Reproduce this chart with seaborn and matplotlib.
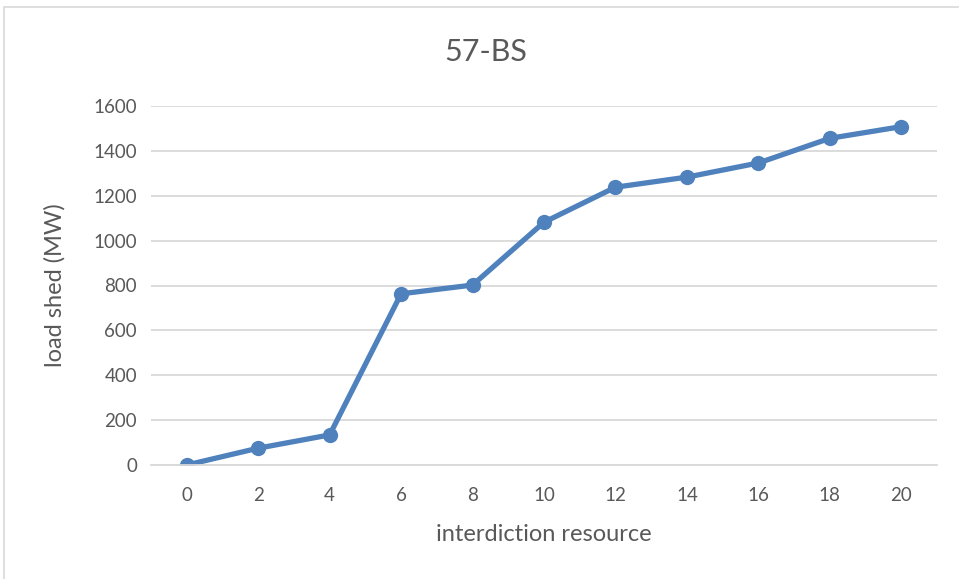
import matplotlib
matplotlib.use("Agg")
import matplotlib.pyplot as plt
import seaborn as sns
import pandas as pd
from matplotlib.patches import Rectangle

# data
resource = ["0", "2", "4", "6", "8", "10", "12", "14", "16", "18", "20"]
load_shed = [0, 75, 134, 763, 802, 1082, 1238, 1283, 1346, 1456, 1508]
y_ticks = [0, 200, 400, 600, 800, 1000, 1200, 1400, 1600]

sns.set_style("white")
plt.rcParams["font.family"] = ["Lato", "DejaVu Sans"]

df = pd.DataFrame({"resource": resource, "load_shed": load_shed})

fig = plt.figure(figsize=(9.59, 5.79), dpi=100)
ax = fig.add_axes([151 / 959, 1 - 465 / 579, (937 - 151) / 959, (465 - 106) / 579])

# light chart border like the Excel chart area
fig.patches.append(Rectangle((4 / 959, -0.2), 1.2, 1.2 - 7 / 579, transform=fig.transFigure,
                             fill=False, edgecolor="#D9D9D9", linewidth=1.2))

sns.lineplot(data=df, x="resource", y="load_shed", sort=False, ax=ax,
             color="#4F81BD", linewidth=3.8, marker="o", markersize=11,
             markeredgewidth=0)

ax.set_xlim(-0.5, len(resource) - 0.5)
ax.set_ylim(0, 1600)
ax.set_yticks(y_ticks)
ax.yaxis.grid(True, color="#D9D9D9", linewidth=1.3)
ax.set_axisbelow(True)
for s in ["top", "right", "left"]:
    ax.spines[s].set_visible(False)
ax.spines["bottom"].set_color("#D9D9D9")
ax.spines["bottom"].set_linewidth(1.3)
ax.tick_params(axis="x", length=0, labelsize=13.5, colors="#595959", pad=16)
ax.tick_params(axis="y", length=0, labelsize=13.5, colors="#595959", pad=10)

fig.text(486 / 959, 1 - 52 / 579, "57-BS", fontsize=22, color="#595959",
         ha="center", va="center")
ax.set_xlabel("interdiction resource", fontsize=17, color="#595959", labelpad=14)
ax.set_ylabel("load shed (MW)", fontsize=17, color="#595959", labelpad=20)

fig.savefig("out.png", dpi=100)
